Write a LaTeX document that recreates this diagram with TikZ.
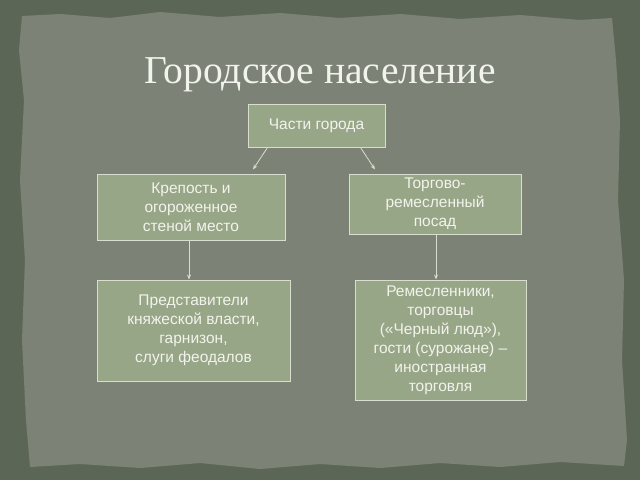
\documentclass[tikz,border=0pt]{standalone}
\usepackage{fontspec}
\setmainfont{Liberation Serif}
\setsansfont{Liberation Sans}
\usetikzlibrary{arrows.meta}

\definecolor{outerbg}{RGB}{92,102,87}
\definecolor{paper}{RGB}{124,131,118}
\definecolor{boxfill}{RGB}{152,166,136}
\definecolor{boxline}{RGB}{216,221,206}
\definecolor{lighttext}{RGB}{242,243,236}

\tikzset{
  box/.style={draw=boxline, fill=boxfill, line width=1pt, text=lighttext,
    font=\sffamily\fontsize{15.5}{19}\selectfont, align=center, inner sep=0pt},
  arr/.style={draw=boxline, line width=0.8pt, -{Stealth[length=5pt,width=4pt]}}
}

\begin{document}
\begin{tikzpicture}[x=1pt,y=-1pt]

\fill [outerbg] (0,0) rectangle (640,480);
\useasboundingbox (0,0) rectangle (640,480);

% torn paper
\fill [paper] (22,16) -- (60,14) -- (110,18) -- (160,12) -- (220,17) -- (280,13) -- (340,18)
  -- (400,14) -- (460,19) -- (520,15) -- (580,20) -- (612,18) -- (616,60) -- (620,120)
  -- (618,200) -- (624,280) -- (622,360) -- (627,440) -- (624,466) -- (560,462)
  -- (500,467) -- (440,463) -- (380,468) -- (320,464) -- (260,469) -- (200,463)
  -- (140,468) -- (80,464) -- (30,467) -- (26,420) -- (22,340) -- (25,260)
  -- (20,180) -- (24,100) -- (19,50) -- cycle;

\node [text=lighttext, font=\fontsize{39.5}{42}\selectfont] (title) at (320,75) {Городское население};

\node [box, minimum width=137, minimum height=43] (parts) at (316.5,125.5) {Части города};
\node [box, minimum width=188, minimum height=66] (krep) at (191,207)
  {Крепость и\\огороженное\\стеной место};
\node [box, minimum width=172, minimum height=60] (torg) at (435,204)
  {Торгово-\\ремесленный\\посад};
\node [box, minimum width=193, minimum height=101] (pred) at (193.5,330.5)
  {Представители\\княжеской власти,\\гарнизон,\\слуги феодалов};
\node [box, minimum width=171, minimum height=120] (rem) at (440.5,340)
  {Ремесленники,\\торговцы\\(«Черный люд»),\\гости (сурожане) –\\иностранная\\торговля};

\draw [arr] ([xshift=20]parts.south west) -- ([xshift=62,yshift=4]krep.north);
\draw [arr] ([xshift=-25]parts.south east) -- ([xshift=-60,yshift=4]torg.north);
\draw [arr] ([xshift=-2]krep.south) -- ([xshift=-2]krep.south |- pred.north);
\draw [arr] ([xshift=1]torg.south) -- ([xshift=1]torg.south |- rem.north);

\end{tikzpicture}
\end{document}
